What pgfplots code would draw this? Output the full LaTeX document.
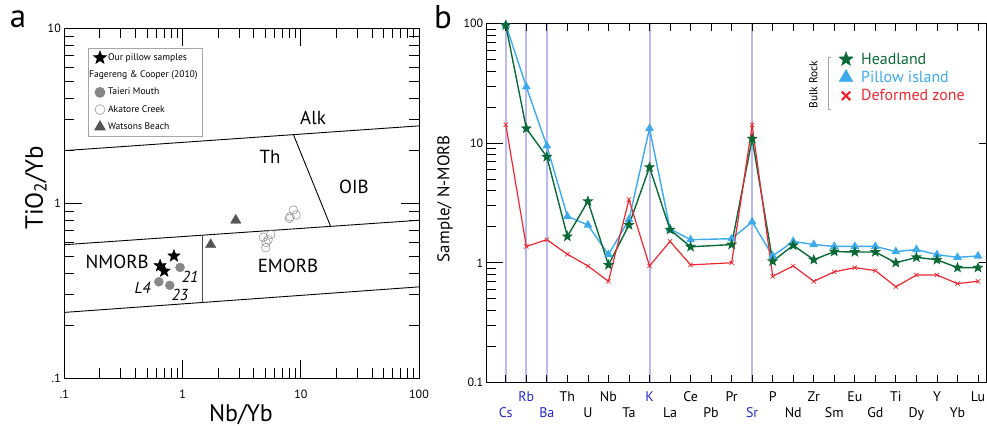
\documentclass[border=0pt]{standalone}
\usepackage{fontspec}
\setmainfont{PT Sans}
\usepackage{pgfplots}
\usepackage{pgfplotstable}
\pgfplotsset{compat=1.18}
\usetikzlibrary{plotmarks}

\definecolor{hgreen}{RGB}{10,105,55}
\definecolor{pblue}{RGB}{60,170,235}
\definecolor{dred}{RGB}{235,40,50}
\definecolor{lav}{RGB}{185,185,242}
\definecolor{lblue}{RGB}{40,40,200}
\definecolor{tgrey}{RGB}{135,135,135}
\definecolor{wgrey}{RGB}{85,85,85}

% filled five-pointed star
\pgfdeclareplotmark{fstar}{%
  \pgfpathmoveto{\pgfqpointpolar{90}{\pgfplotmarksize}}%
  \pgfpathlineto{\pgfqpointpolar{126}{0.42\pgfplotmarksize}}%
  \pgfpathlineto{\pgfqpointpolar{162}{\pgfplotmarksize}}%
  \pgfpathlineto{\pgfqpointpolar{198}{0.42\pgfplotmarksize}}%
  \pgfpathlineto{\pgfqpointpolar{234}{\pgfplotmarksize}}%
  \pgfpathlineto{\pgfqpointpolar{270}{0.42\pgfplotmarksize}}%
  \pgfpathlineto{\pgfqpointpolar{306}{\pgfplotmarksize}}%
  \pgfpathlineto{\pgfqpointpolar{342}{0.42\pgfplotmarksize}}%
  \pgfpathlineto{\pgfqpointpolar{18}{\pgfplotmarksize}}%
  \pgfpathlineto{\pgfqpointpolar{54}{0.42\pgfplotmarksize}}%
  \pgfpathclose
  \pgfusepathqfillstroke
}

% spider diagram, normalised to N-MORB (Pb not plotted)
\pgfplotstableread{
x   hl    pi    dz
0   97    98    14.3
1   13.3  29.7  1.37
2   7.7   9.5   1.56
3   1.66  2.45  1.18
4   3.27  2.07  0.94
5   0.96  1.17  0.70
6   2.07  2.3   3.38
7   6.3   13.3  0.94
8   1.89  1.92  1.51
9   1.36  1.56  0.96
11  1.42  1.59  1.00
12  10.9  2.2   14.2
13  1.03  1.14  0.77
14  1.40  1.51  0.94
15  1.06  1.42  0.70
16  1.24  1.37  0.84
17  1.23  1.37  0.91
18  1.23  1.37  0.86
19  1.00  1.24  0.63
20  1.11  1.29  0.79
21  1.06  1.17  0.79
22  0.91  1.11  0.67
23  0.91  1.14  0.70
}\spider

\newcommand{\lo}[1]{\raisebox{-16.5bp}{#1}}
\newcommand{\fs}[1]{\fontsize{#1}{#1}\selectfont}

\begin{document}
\begin{tikzpicture}
\path[use as bounding box] (0,0) rectangle (987bp,426bp);

\node[anchor=base, font=\fs{33}] at (18bp,398bp) {a};
\node[anchor=base, font=\fs{33}] at (443bp,397bp) {b};

%% ---------- panel a ----------
\begin{axis}[
  at={(64.3bp,47.7bp)}, anchor=south west,
  scale only axis, width=354.7bp, height=350bp,
  xmode=log, ymode=log,
  xmin=0.1, xmax=100, ymin=0.1, ymax=10,
  xtick={0.1,1,10,100}, xticklabels={.1,1,10,100},
  ytick={0.1,1,10}, yticklabels={.1,1,10},
  tick align=inside,
  major tick length=18bp, minor tick length=10bp,
  tick style={black, line width=0.8bp},
  axis line style={line width=1bp},
  ticklabel style={font=\fs{12}},
  xticklabel style={yshift=-8bp},
  xlabel={Nb/Yb}, ylabel={TiO\textsubscript{2}/Yb},
  xlabel style={at={(axis description cs:0.498,-0.122)}, anchor=base, font=\fs{24}},
  ylabel style={at={(axis description cs:-0.08,0.544)}, anchor=center, font=\fs{25}},
  clip=false,
  legend style={at={(axis description cs:0.067,0.944)}, anchor=north west,
    draw=gray!70, line width=0.8bp, font=\fs{9.6}, row sep=5bp, inner sep=3bp},
  legend cell align=left,
]
% field boundaries
\addplot[black, line width=0.9bp, forget plot] coordinates {(0.1,2.0) (100,2.77)};
\addplot[black, line width=0.9bp, forget plot] coordinates {(0.1,0.58) (100,0.80)};
\addplot[black, line width=0.9bp, forget plot] coordinates {(0.1,0.238) (100,0.333)};
\addplot[black!70, line width=0.9bp, forget plot] coordinates {(1.46,0.657) (1.46,0.271)};
\addplot[black, line width=0.9bp, forget plot] coordinates {(8.66,2.47) (17.9,0.738)};

% Fagereng & Cooper (2010)
\addplot[only marks, mark=*, mark size=4.5bp, draw=tgrey, fill=tgrey, forget plot]
  coordinates {(0.953,0.43) (0.63,0.356) (0.78,0.34)};
\addplot[only marks, mark=o, mark size=4.3bp, draw=gray!80, line width=0.6bp, forget plot]
  coordinates {(4.83,0.64) (5.57,0.665) (5.09,0.596) (5.06,0.557) (8.12,0.838)
               (8.66,0.916) (9.13,0.858) (8.01,0.82) (5.3,0.62)};
\addplot[only marks, mark=triangle*, mark size=6bp, draw=wgrey, fill=wgrey, forget plot]
  coordinates {(2.82,0.80) (1.73,0.58)};
% our pillow samples
\addplot[only marks, mark=fstar, mark size=6.5bp, black, forget plot]
  coordinates {(0.646,0.44) (0.70,0.41) (0.846,0.50)};

\addlegendimage{only marks, mark=fstar, mark size=6.5bp, black}
\addlegendentry{Our pillow samples}
\addlegendimage{empty legend}
\addlegendentry{\hspace*{-19bp}Fagereng \& Cooper (2010)}
\addlegendimage{only marks, mark=*, mark size=5bp, draw=tgrey, fill=tgrey}
\addlegendentry{Taieri Mouth}
\addlegendimage{only marks, mark=o, mark size=5bp, draw=gray!80, line width=0.6bp}
\addlegendentry{Akatore Creek}
\addlegendimage{only marks, mark=triangle*, mark size=6bp, draw=wgrey, fill=wgrey}
\addlegendentry{Watsons Beach}

\node[font=\fs{19}] at (axis cs:12.7,3.07) {Alk};
\node[font=\fs{19}] at (axis cs:5.5,1.84) {Th};
\node[font=\fs{19}] at (axis cs:28.2,1.24) {OIB};
\node[font=\fs{19}] at (axis cs:0.28,0.462) {NMORB};
\node[font=\fs{19}] at (axis cs:7.8,0.44) {EMORB};
\node[font=\fs{16}\itshape] at (axis cs:1.16,0.38) {21};
\node[font=\fs{16}\itshape] at (axis cs:0.46,0.33) {L4};
\node[font=\fs{16}\itshape] at (axis cs:0.95,0.30) {23};
\end{axis}

%% ---------- panel b ----------
\begin{axis}[
  at={(486.7bp,43.7bp)}, anchor=south west,
  scale only axis, width=499.3bp, height=358.6bp,
  ymode=log, ymin=0.1, ymax=100,
  xmin=-0.93, xmax=23.39,
  xtick={0,...,23},
  xticklabels={{\lo{\textcolor{lblue}{Cs}}},{\textcolor{lblue}{Rb}},{\lo{\textcolor{lblue}{Ba}}},
    Th,{\lo{U}},Nb,{\lo{Ta}},{\textcolor{lblue}{K}},{\lo{La}},Ce,{\lo{Pb}},Pr,
    {\lo{\textcolor{lblue}{Sr}}},P,{\lo{Nd}},Zr,{\lo{Sm}},Eu,{\lo{Gd}},Ti,{\lo{Dy}},Y,{\lo{Yb}},Lu},
  ytick={0.1,1,10,100}, yticklabels={0.1,1,10,100},
  xtick pos=both, ytick pos=left,
  tick align=inside,
  xtick style={/pgfplots/major tick length=7bp},
  ytick style={/pgfplots/major tick length=16bp},
  minor tick length=9bp,
  tick style={black, line width=0.8bp},
  axis line style={line width=1bp},
  xticklabel style={anchor=base, yshift=-19bp, font=\fs{14}},
  yticklabel style={font=\fs{12}},
  extra x ticks={0,1,2,7,12}, extra x tick labels={},
  extra x tick style={grid=major, major grid style={draw=lav, line width=2bp}},
  ylabel={Sample/ N-MORB},
  ylabel style={at={(axis description cs:-0.0835,0.512)}, anchor=center, font=\fs{17}},
  clip=false,
  legend style={at={(axis description cs:0.699,0.93)}, anchor=north west,
    draw=none, fill=none, font=\fs{16}, row sep=1.5bp,
    /tikz/every odd column/.append style={column sep=6bp}},
  legend cell align=left,
]
\addplot[pblue, line width=1.4bp, mark=triangle*, mark size=3.7bp, forget plot] table[x=x, y=pi] {\spider};
\addplot[hgreen, line width=1.4bp, mark=fstar, mark size=3.9bp, forget plot] table[x=x, y=hl] {\spider};
\addplot[dred, line width=1.2bp, mark=x, mark size=3bp, mark options={line width=0.7bp}, forget plot] table[x=x, y=dz] {\spider};

\addlegendimage{only marks, mark=fstar, mark size=7.5bp, hgreen}
\addlegendentry{\textcolor{hgreen}{Headland}}
\addlegendimage{only marks, mark=triangle*, mark size=8bp, pblue}
\addlegendentry{\textcolor{pblue}{Pillow island}}
\addlegendimage{only marks, mark=x, mark size=6bp, mark options={line width=2.2bp}, dred}
\addlegendentry{\textcolor{dred}{Deformed zone}}

\draw[gray!70, line width=0.7bp] (axis description cs:0.690,0.905) -- (axis description cs:0.6836,0.905)
  -- (axis description cs:0.6836,0.760) -- (axis description cs:0.690,0.760);
\node[rotate=90, font=\fs{11.5}] at (axis description cs:0.6545,0.830) {Bulk Rock};
\end{axis}

% short ticks on the right axis of panel b
\begin{axis}[
  at={(486.7bp,43.7bp)}, anchor=south west,
  scale only axis, width=499.3bp, height=358.6bp,
  xmin=0, xmax=1, ymin=-1, ymax=2,
  hide x axis, axis y line*=right,
  ytick={0,1}, yticklabels={},
  tick align=inside, major tick length=7bp,
  tick style={black, line width=0.8bp},
  axis line style={line width=1bp, -},
]
\end{axis}
\end{tikzpicture}
\end{document}
